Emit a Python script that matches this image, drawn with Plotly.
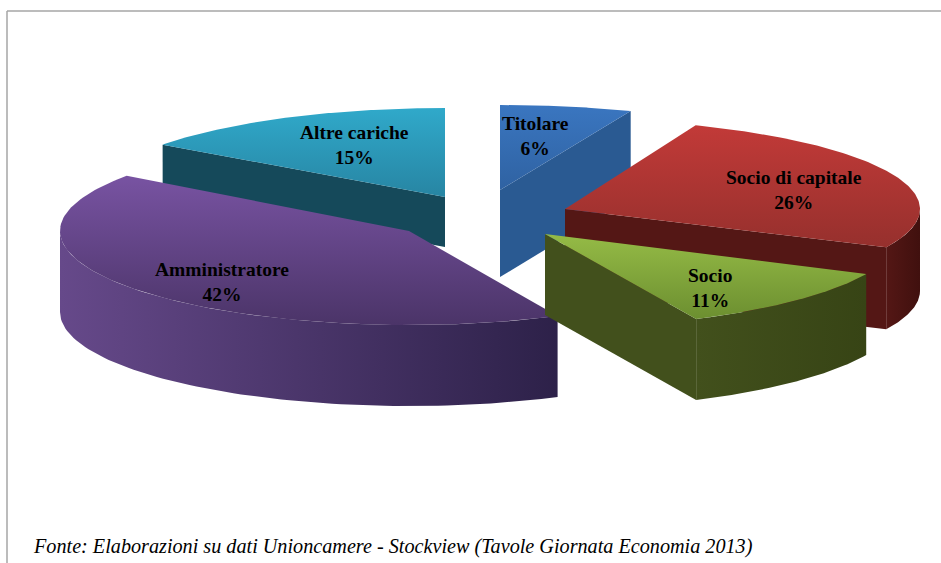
import numpy as np
import plotly.graph_objects as go

# ---- data ----
categories = ["Titolare", "Socio di capitale", "Socio", "Amministratore", "Altre cariche"]
shares = [6, 26, 11, 42, 15]
note = "Fonte: Elaborazioni su dati Unioncamere - Stockview (Tavole Giornata Economia 2013)"

# ---- projection / styling of the exploded tilted pie (pixel-like axes) ----
apex = {"Titolare": (500, 190), "Socio di capitale": (565, 209), "Socio": (545, 234),
        "Amministratore": (409, 231), "Altre cariche": (445, 197)}
radius = {"Titolare": (355, 85), "Socio di capitale": (355, 90), "Socio": (355, 94),
          "Amministratore": (349, 94), "Altre cariche": (349, 89)}
depth = {"Titolare": 87, "Socio di capitale": 82, "Socio": 81, "Amministratore": 81, "Altre cariche": 50}
# gradient colours, listed bottom -> top for the top faces
top_cols = {"Titolare": ("#2f62a2", "#3a76c0"), "Socio di capitale": ("#96302d", "#c23a38"),
            "Socio": ("#6c8f30", "#95bb46"), "Amministratore": ("#4b3468", "#7853a2"),
            "Altre cariche": ("#2785a3", "#30a9ca")}
side_cols = {"Titolare": ("#2a5a92", "#28568c"), "Socio di capitale": ("#541715", "#40100e"),
             "Socio": ("#42501c", "#374415"), "Amministratore": ("#66498a", "#2d2149"),
             "Altre cariche": ("#15495a", "#15495a")}
label_pos = {"Titolare": (535, 136), "Socio di capitale": (794, 190), "Socio": (710, 288),
             "Amministratore": (222, 282), "Altre cariche": (354, 145)}
draw_order = ["Titolare", "Altre cariche", "Socio di capitale", "Amministratore", "Socio"]
radial_face = {"Titolare": "end", "Socio di capitale": "end", "Socio": "end",
               "Amministratore": None, "Altre cariche": "start"}

edges = np.concatenate([[0], np.cumsum(shares)]) / sum(shares) * 2 * np.pi
span = {c: (edges[i], edges[i + 1]) for i, c in enumerate(categories)}


def rim(c, t):
    (ax, ay), (rx, ry) = apex[c], radius[c]
    return ax + rx * np.sin(t), ay - ry * np.cos(t)


def face(xs, ys, cols, kind, name):
    return go.Scatter(x=list(xs) + [xs[0]], y=list(ys) + [ys[0]], mode="lines", fill="toself",
                      line=dict(width=0), hoverinfo="skip", name=name, showlegend=False,
                      fillgradient=dict(type=kind, colorscale=[[0, cols[0]], [1, cols[1]]]))


fig = go.Figure()
for c in draw_order:
    t0, t1 = span[c]
    ax, ay = apex[c]
    h = depth[c]
    a, b = max(t0, np.pi / 2), min(t1, 3 * np.pi / 2)
    if a < b:
        t = np.linspace(a, b, 80)
        x, y = rim(c, t)
        fig.add_trace(face(np.r_[x, x[::-1]], np.r_[y, y[::-1] + h], side_cols[c], "horizontal", c + " wall"))
    which = radial_face[c]
    if which:
        te = t1 if which == "end" else t0
        x, y = rim(c, te)
        fig.add_trace(face([ax, x, x, ax], [ay, y, y + h, ay + h], (side_cols[c][0], side_cols[c][0]),
                           "horizontal", c + " cut"))
    t = np.linspace(t0, t1, 120)
    x, y = rim(c, t)
    fig.add_trace(face(np.r_[ax, x], np.r_[ay, y], top_cols[c], "vertical", c))

for c, v in zip(categories, shares):
    fig.add_annotation(x=label_pos[c][0], y=label_pos[c][1], text=f"<b>{c}<br>{v}%</b>", showarrow=False,
                       font=dict(family="Liberation Serif", size=19.5, color="#000000"),
                       align="center", xanchor="center", yanchor="middle")

fig.add_annotation(x=31, y=546, text=f"<i>{note}</i>", showarrow=False, xanchor="left", yanchor="middle",
                   font=dict(family="Liberation Serif", size=20.2, color="#000000"))

frame = dict(type="line", line=dict(color="#a6a6a6", width=1.5), layer="below")
fig.add_shape(x0=7, x1=7, y0=11, y1=563, **frame)
fig.add_shape(x0=7, x1=941, y0=11, y1=11, **frame)

fig.update_layout(width=941, height=563, margin=dict(l=0, r=0, t=0, b=0), paper_bgcolor="white",
                  plot_bgcolor="white", showlegend=False)
fig.update_xaxes(range=[0, 941], visible=False, fixedrange=True)
fig.update_yaxes(range=[563, 0], visible=False, fixedrange=True)
fig.write_html("out.html", config={"displayModeBar": False},
               post_script="document.body.style.margin='0';document.documentElement.style.overflow='hidden';")
